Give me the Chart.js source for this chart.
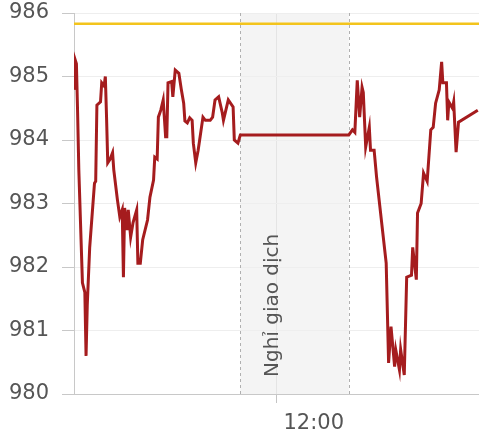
<!DOCTYPE html>
<html>
<head>
<meta charset="utf-8">
<script src="https://cdn.jsdelivr.net/npm/chart.js@4/dist/chart.umd.min.js"></script>
<style>
    body { margin: 0; background: #fff; }
    #wrap { width: 479px; height: 435px; }
</style>
</head>
<body>
<div id="wrap"><canvas id="priceChart" width="479" height="435"></canvas></div>
<script>
// Intraday data (time, price)
const times = [
    '09:12', '09:13', '09:14', '09:15', '09:16', '09:19', '09:21', '09:22', '09:23', '09:25',
    '09:29', '09:30', '09:31', '09:34', '09:35', '09:37', '09:38', '09:39', '09:40', '09:42',
    '09:44', '09:45', '09:48', '09:50', '09:52', '09:53', '09:54', '09:56', '09:57', '09:59',
    '10:01', '10:04', '10:05', '10:07', '10:09', '10:13', '10:15', '10:18', '10:19', '10:21',
    '10:22', '10:24', '10:26', '10:28', '10:29', '10:30', '10:33', '10:34', '10:36', '10:39',
    '10:41', '10:43', '10:44', '10:46', '10:48', '10:50', '10:51', '10:53', '10:55', '10:59',
    '11:01', '11:05', '11:07', '11:09', '11:12', '11:15', '11:16', '11:20', '11:24', '11:25',
    '11:28', '11:30',
    '13:00', '13:03', '13:05', '13:07', '13:09', '13:11', '13:12', '13:14', '13:17', '13:18',
    '13:21', '13:23', '13:31', '13:33', '13:35', '13:38', '13:39', '13:42', '13:43', '13:46',
    '13:48', '13:52', '13:53', '13:56', '13:57', '14:00', '14:02', '14:05', '14:08', '14:10',
    '14:12', '14:15', '14:17', '14:18', '14:21', '14:22', '14:23', '14:26', '14:27', '14:29',
    '14:31', '14:47'
];
const prices = [
    984.79, 985.26, 985.2, 984.43, 983.53, 981.75, 981.6, 980.6, 981.4, 982.3,
    983.32, 983.35, 984.55, 984.6, 984.9, 984.85, 985.0, 984.36, 983.64, 983.7,
    983.8, 983.53, 983.06, 982.79, 982.9, 981.84, 982.93, 982.58, 982.9, 982.47,
    982.7, 982.9, 982.06, 982.06, 982.43, 982.74, 983.1, 983.37, 983.73, 983.7,
    984.36, 984.47, 984.63, 984.05, 984.05, 984.9, 984.92, 984.68, 985.1, 985.05,
    984.8, 984.58, 984.3, 984.27, 984.35, 984.31, 983.95, 983.64, 983.84, 984.36,
    984.31, 984.31, 984.36, 984.63, 984.68, 984.43, 984.31, 984.63, 984.52, 984.0,
    983.95, 984.08,
    984.08, 984.16, 984.12, 984.94, 984.36, 984.83, 984.75, 983.89, 984.2, 983.84,
    983.84, 983.42, 982.06, 980.49, 981.06, 980.43, 980.69, 980.38, 980.7, 980.3,
    981.84, 981.87, 982.31, 981.8, 982.85, 983.0, 983.48, 983.35, 984.16, 984.2,
    984.58, 984.79, 985.23, 984.9, 984.9, 984.31, 984.6, 984.5, 984.6, 983.81,
    984.28, 984.47
];

// Reference price and lunch break
const refPrice = 985.83;
const breakStart = '11:30';
const breakEnd = '13:00';
const breakLabel = 'Nghỉ giao dịch';

// Axis range and ticks
const xStart = '09:12';
const xEnd = '14:48';
const xTicks = ['12:00'];
const yTicks = [980, 981, 982, 983, 984, 985, 986];

function toMin(t) {
    const p = t.split(':');
    return parseInt(p[0], 10) * 60 + parseInt(p[1], 10);
}

function fmtMin(v) {
    const h = Math.floor(v / 60);
    const m = v % 60;
    return (h < 10 ? '0' : '') + h + ':' + (m < 10 ? '0' : '') + m;
}

const FONT = 'DejaVu Sans';

// Shaded break band, drawn under the grid
const breakBand = {
    id: 'breakBand',
    beforeDraw(chart) {
        const ctx = chart.ctx;
        const area = chart.chartArea;
        const x = chart.scales.x;
        const x1 = x.getPixelForValue(toMin(breakStart));
        const x2 = x.getPixelForValue(toMin(breakEnd));
        ctx.save();
        ctx.fillStyle = '#f4f4f4';
        ctx.fillRect(x1, area.top, x2 - x1, area.bottom - area.top);
        ctx.restore();
    },
    beforeDatasetsDraw(chart) {
        const ctx = chart.ctx;
        const area = chart.chartArea;
        const x = chart.scales.x;
        const x1 = Math.round(x.getPixelForValue(toMin(breakStart))) + 0.5;
        const x2 = Math.round(x.getPixelForValue(toMin(breakEnd))) + 0.5;
        ctx.save();
        ctx.strokeStyle = '#b0b0b0';
        ctx.lineWidth = 1;
        ctx.setLineDash([3, 3]);
        [x1, x2].forEach(px => {
            ctx.beginPath();
            ctx.moveTo(px, area.top);
            ctx.lineTo(px, area.bottom);
            ctx.stroke();
        });
        ctx.setLineDash([]);

        // Vertical label inside the band
        const lx = x.getPixelForValue(toMin(xTicks[0])) + 1;
        ctx.translate(lx, area.bottom - 17);
        ctx.rotate(-Math.PI / 2);
        ctx.fillStyle = '#555';
        ctx.font = '20px "' + FONT + '"';
        ctx.textAlign = 'left';
        ctx.textBaseline = 'alphabetic';
        ctx.fillText(breakLabel, 0, 0);
        ctx.restore();
    }
};

new Chart(document.getElementById('priceChart'), {
    type: 'line',
    data: {
        datasets: [{
            label: 'Giá',
            data: times.map((t, i) => ({ x: toMin(t), y: prices[i] })),
            borderColor: '#a51c1e',
            borderWidth: 3,
            pointRadius: 0,
            tension: 0
        }, {
            label: 'Tham chiếu',
            data: [{ x: toMin(xStart), y: refPrice }, { x: toMin(xEnd), y: refPrice }],
            borderColor: '#f3c41c',
            borderWidth: 2.5,
            pointRadius: 0
        }]
    },
    options: {
        responsive: false,
        animation: false,
        layout: { padding: 0 },
        plugins: {
            legend: { display: false },
            tooltip: { enabled: false }
        },
        scales: {
            x: {
                type: 'linear',
                min: toMin(xStart),
                max: toMin(xEnd),
                afterBuildTicks: scale => {
                    scale.ticks = xTicks.map(t => ({ value: toMin(t) }));
                },
                afterFit: scale => {
                    scale.height = 41;
                    scale.paddingLeft = 0;
                    scale.paddingRight = 0;
                },
                ticks: {
                    callback: v => fmtMin(v),
                    align: 'start',
                    labelOffset: 7,
                    padding: 8,
                    maxRotation: 0,
                    color: '#555',
                    font: { family: FONT, size: 21 }
                },
                grid: {
                    color: '#e4e4e4',
                    tickColor: '#c4c4c4',
                    tickLength: 9
                },
                border: { color: '#c8c8c8' }
            },
            y: {
                min: yTicks[0],
                max: yTicks[yTicks.length - 1],
                afterBuildTicks: scale => {
                    scale.ticks = yTicks.map(v => ({ value: v }));
                },
                afterFit: scale => {
                    scale.width = 74;
                    scale.paddingTop = 13;
                    scale.paddingBottom = 0;
                },
                ticks: {
                    padding: 13,
                    color: '#555',
                    font: { family: FONT, size: 21 }
                },
                grid: {
                    color: '#eeeeee',
                    tickColor: '#c8c8c8',
                    tickLength: 12
                },
                border: { color: '#c8c8c8' }
            }
        }
    },
    plugins: [breakBand]
});
</script>
</body>
</html>
